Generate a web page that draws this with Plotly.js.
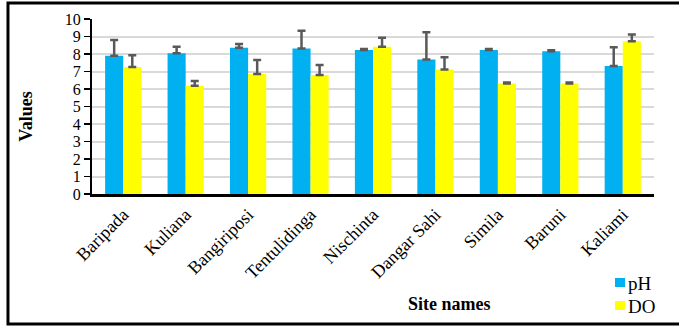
<!DOCTYPE html>
<html>
<head>
<meta charset="utf-8">
<script src="https://cdn.plot.ly/plotly-3.0.1.min.js"></script>
<style>html,body{margin:0;padding:0;background:#fff;}#chart{width:679px;height:327px;}</style>
</head>
<body>
<div id="chart"></div>
<script>
const sites = ["Baripada","Kuliana","Bangiriposi","Tentulidinga","Nischinta","Dangar Sahi","Simila","Baruni","Kaliami"];
const phValues = [7.9, 8.04, 8.36, 8.31, 8.23, 7.68, 8.23, 8.16, 7.32];
const phErrors = [0.9, 0.38, 0.21, 1.02, 0.05, 1.56, 0.05, 0.05, 1.07];
const doValues = [7.26, 6.18, 6.86, 6.8, 8.42, 7.11, 6.31, 6.31, 8.73];
const doErrors = [0.67, 0.28, 0.8, 0.57, 0.51, 0.71, 0.06, 0.06, 0.38];
const yTicks = [0,1,2,3,4,5,6,7,8,9,10];
const seriesNames = ['pH', 'DO'];
const seriesColors = ['#00b0f0', '#ffff00'];

const font = "Liberation Serif";
const zeros = sites.map(() => 0);
const errStyle = {color: '#595959', thickness: 2.5, width: 4};

const traces = [
  {type: 'bar', name: seriesNames[0], x: sites, y: phValues, marker: {color: seriesColors[0]},
   error_y: Object.assign({type: 'data', symmetric: false, array: phErrors, arrayminus: zeros, visible: true}, errStyle)},
  {type: 'bar', name: seriesNames[1], x: sites, y: doValues, marker: {color: seriesColors[1]},
   error_y: Object.assign({type: 'data', symmetric: false, array: doErrors, arrayminus: zeros, visible: true}, errStyle)}
];

// manual legend (squares + labels)
const legendRows = [{y0: -0.48, y1: -0.5314, ty: -0.5086}, {y0: -0.6114, y1: -0.6629, ty: -0.64}];
const legendShapes = legendRows.map((r, i) => ({type: 'rect', xref: 'paper', yref: 'paper',
  x0: 0.9306, x1: 0.9484, y0: r.y1, y1: r.y0, line: {width: 0}, fillcolor: seriesColors[i]}));
const legendTexts = legendRows.map((r, i) => ({text: seriesNames[i], xref: 'paper', yref: 'paper',
  x: 0.951, y: r.ty, xanchor: 'left', yanchor: 'middle', showarrow: false,
  font: {family: font, size: 19, color: '#000'}}));

const layout = {
  width: 679, height: 327,
  margin: {l: 92, r: 25, t: 19, b: 133, autoexpand: false},
  paper_bgcolor: '#fff', plot_bgcolor: '#fff',
  font: {family: font, size: 16, color: '#000'},
  barmode: 'group', bargap: 0.42, bargroupgap: 0,
  xaxis: {tickangle: -45, showline: true, linecolor: '#000', linewidth: 3, automargin: false,
          ticks: '', showgrid: false, tickfont: {family: font, size: 18, color: '#000'}},
  yaxis: {range: [0, 10], tickvals: yTicks, showline: true, linecolor: '#000', linewidth: 2, automargin: false,
          ticks: 'outside', ticklen: 6, tickcolor: '#000', tickwidth: 1.5,
          gridcolor: '#d9d9d9', gridwidth: 2, zeroline: false,
          tickfont: {family: font, size: 16, color: '#000'}},
  showlegend: false,
  annotations: [
    {text: '<b>Site names</b>', xref: 'paper', yref: 'paper', x: 0.637, y: -0.63,
     showarrow: false, font: {family: font, size: 18, color: '#000'}, xanchor: 'center', yanchor: 'middle'},
    {text: '<b>Values</b>', xref: 'paper', yref: 'paper', x: -0.118, y: 0.44, textangle: -90,
     showarrow: false, font: {family: font, size: 18, color: '#000'}, xanchor: 'center', yanchor: 'middle'}
  ].concat(legendTexts),
  shapes: [
    {type: 'rect', xref: 'paper', yref: 'paper', x0: -0.1495, x1: 1.06, y0: -0.743, y1: 1.091,
     line: {color: '#000', width: 3}, fillcolor: 'rgba(0,0,0,0)'}
  ].concat(legendShapes)
};

Plotly.newPlot('chart', traces, layout, {displayModeBar: false, staticPlot: true});
</script>
</body>
</html>
